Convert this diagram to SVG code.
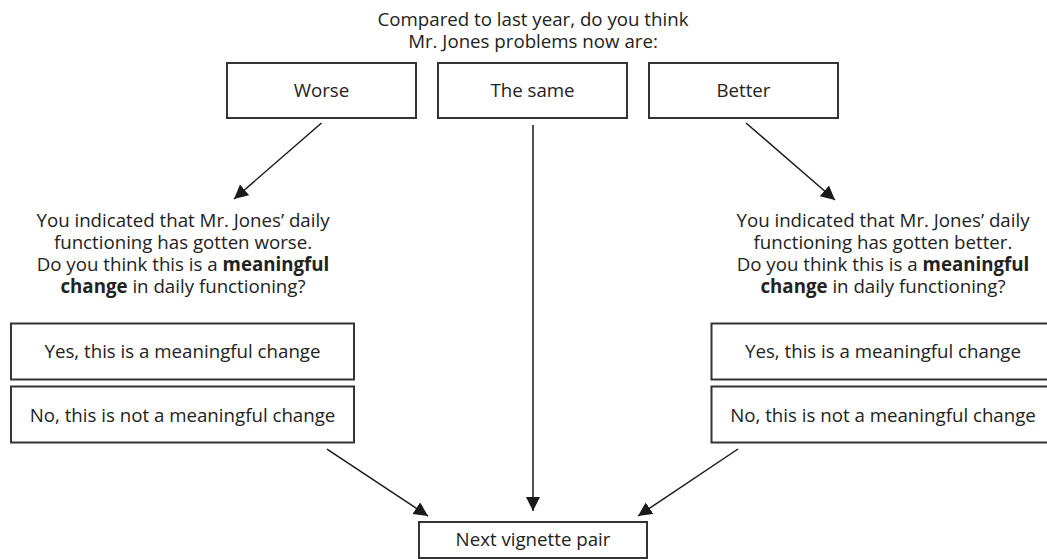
<svg xmlns="http://www.w3.org/2000/svg" width="1047" height="559" viewBox="0 0 1047 559">
<style>
text{font-family:"Open Sans","Noto Sans","Liberation Sans",sans-serif;font-size:18.7px;fill:#222;text-anchor:middle}
.b{font-weight:700}
.box{fill:#fff;stroke:#333;stroke-width:2}
.conn{stroke:#1a1a1a;stroke-width:1.5;fill:none;marker-end:url(#ah)}
</style>
<defs>
<marker id="ah" markerUnits="userSpaceOnUse" markerWidth="16" markerHeight="16" refX="14" refY="7" orient="auto">
<path d="M0,0 L14,7 L0,14 z" fill="#1a1a1a"/>
</marker>
</defs>
<rect width="1047" height="559" fill="#fff"/>
<g id="title">
<text x="533" y="26">Compared to last year, do you think</text>
<text x="533" y="48">Mr. Jones problems now are:</text>
</g>
<g id="worse"><rect class="box" x="227" y="63" width="189" height="55"/><text x="321.5" y="96.5">Worse</text></g>
<g id="same"><rect class="box" x="438" y="63" width="189" height="55"/><text x="532.5" y="96.5">The same</text></g>
<g id="better"><rect class="box" x="649" y="63" width="189" height="55"/><text x="743.5" y="96.5">Better</text></g>
<g id="worse-question">
<text x="183" y="227">You indicated that Mr. Jones’ daily</text>
<text x="183" y="249">functioning has gotten worse.</text>
<text x="183" y="271">Do you think this is a <tspan class="b">meaningful</tspan></text>
<text x="183" y="293"><tspan class="b">change</tspan> in daily functioning?</text>
</g>
<g id="better-question">
<text x="883" y="227">You indicated that Mr. Jones’ daily</text>
<text x="883" y="249">functioning has gotten better.</text>
<text x="883" y="271">Do you think this is a <tspan class="b">meaningful</tspan></text>
<text x="883" y="293"><tspan class="b">change</tspan> in daily functioning?</text>
</g>
<g id="worse-yes"><rect class="box" x="11" y="323.5" width="343" height="56"/><text x="182.5" y="358">Yes, this is a meaningful change</text></g>
<g id="worse-no"><rect class="box" x="11" y="386.5" width="343" height="56"/><text x="182.5" y="422">No, this is not a meaningful change</text></g>
<g id="better-yes"><rect class="box" x="711.5" y="323.5" width="343" height="56"/><text x="883" y="358">Yes, this is a meaningful change</text></g>
<g id="better-no"><rect class="box" x="711.5" y="386.5" width="343" height="56"/><text x="883" y="422">No, this is not a meaningful change</text></g>
<g id="next"><rect class="box" x="419" y="522" width="228" height="36"/><text x="533" y="546">Next vignette pair</text></g>
<g id="connectors">
<line class="conn" x1="321.5" y1="123" x2="234" y2="199"/>
<line class="conn" x1="533" y1="125" x2="533" y2="511"/>
<line class="conn" x1="746" y1="123" x2="835" y2="200"/>
<line class="conn" x1="327" y1="449" x2="428" y2="516"/>
<line class="conn" x1="738" y1="449" x2="638" y2="516"/>
</g>
</svg>
